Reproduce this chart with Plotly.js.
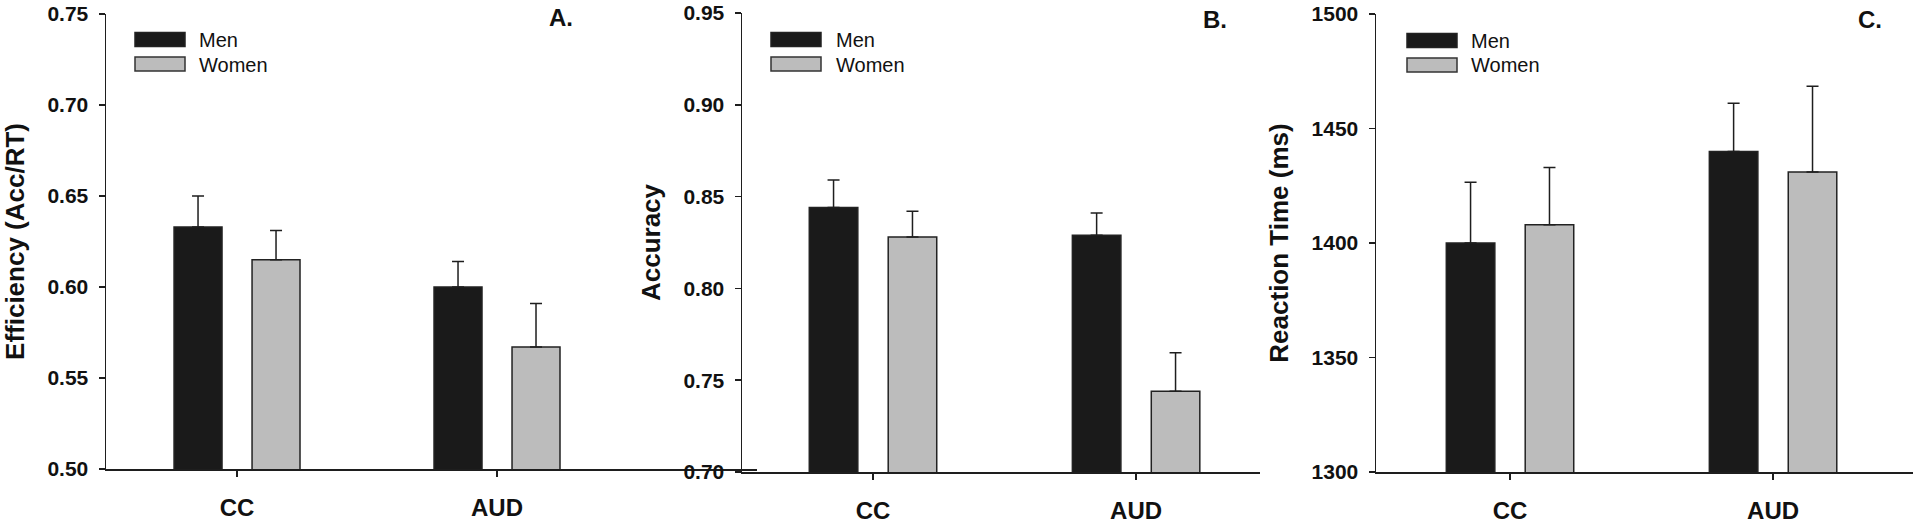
<!DOCTYPE html>
<html>
<head>
<meta charset="utf-8">
<script src="https://cdn.plot.ly/plotly-3.0.1.min.js"></script>
<style>
  html, body { margin: 0; padding: 0; background: #ffffff; }
  #chart { width: 1920px; height: 525px; }
</style>
</head>
<body>
<div id="chart"></div>
<script>
// ---------------- data ----------------
const categories = ['CC', 'AUD'];
const seriesNames = ['Men', 'Women'];
const panelLetters = ['A.', 'B.', 'C.'];
const yTitles = ['Efficiency (Acc/RT)', 'Accuracy', 'Reaction Time (ms)'];

const effMen = [0.633, 0.600];
const effMenErr = [0.017, 0.014];
const effWomen = [0.615, 0.567];
const effWomenErr = [0.016, 0.024];

const accMen = [0.844, 0.829];
const accMenErr = [0.015, 0.012];
const accWomen = [0.828, 0.744];
const accWomenErr = [0.014, 0.021];

const rtMen = [1400, 1440];
const rtMenErr = [26.5, 21];
const rtWomen = [1408, 1431];
const rtWomenErr = [25, 37.5];

const noLowerErr = [0, 0];

// ---------------- styling ----------------
const W = 1920, H = 525;
const px = x => x / W;
const py = y => 1 - y / H;
const FONT = 'Liberation Sans, Arial, Helvetica, sans-serif';
const INK = '#1e1e1e';
const MEN_COLOR = '#1a1a1a';
const WOMEN_COLOR = '#bcbcbc';

function barTrace(vals, errs, name, color, xa, ya) {
  return {
    type: 'bar', x: categories, y: vals, name: name,
    xaxis: xa, yaxis: ya, showlegend: false,
    marker: { color: color, line: { color: '#222222', width: 1.5 } },
    error_y: { type: 'data', array: errs, arrayminus: noLowerErr, symmetric: false,
               visible: true, color: INK, thickness: 1.5, width: 6 },
    hoverinfo: 'skip'
  };
}

const data = [
  barTrace(effMen, effMenErr, seriesNames[0], MEN_COLOR, 'x', 'y'),
  barTrace(effWomen, effWomenErr, seriesNames[1], WOMEN_COLOR, 'x', 'y'),
  barTrace(accMen, accMenErr, seriesNames[0], MEN_COLOR, 'x2', 'y2'),
  barTrace(accWomen, accWomenErr, seriesNames[1], WOMEN_COLOR, 'x2', 'y2'),
  barTrace(rtMen, rtMenErr, seriesNames[0], MEN_COLOR, 'x3', 'y3'),
  barTrace(rtWomen, rtWomenErr, seriesNames[1], WOMEN_COLOR, 'x3', 'y3')
];

function xAxis(domain, range, anchor) {
  return {
    type: 'category', domain: domain, range: range, anchor: anchor,
    showline: true, linecolor: INK, linewidth: 1.5,
    ticks: 'outside', ticklen: 6, tickwidth: 1.5, tickcolor: INK,
    showgrid: false, zeroline: false,
    tickfont: { family: FONT, size: 24, color: '#111', weight: 'bold' },
    ticklabelstandoff: 11, automargin: false, fixedrange: true
  };
}
function yAxis(domain, range, dtick, fmt, anchor, title) {
  return {
    domain: domain, range: range, dtick: dtick, tick0: range[0], tickformat: fmt, anchor: anchor,
    showline: true, linecolor: INK, linewidth: 1.5,
    ticks: 'outside', ticklen: 6, tickwidth: 1.5, tickcolor: INK,
    showgrid: false, zeroline: false,
    tickfont: { family: FONT, size: 21, color: '#111', weight: 'bold' },
    ticklabelstandoff: 6,
    title: { text: title, font: { family: FONT, size: 26, color: '#111', weight: 'bold' }, standoff: 15 },
    automargin: false, fixedrange: true
  };
}

// legend boxes + text (drawn as layout decorations)
const legendPos = [
  { box: 135, text: 197, dy: 0 },
  { box: 771, text: 834, dy: 0 },
  { box: 1407, text: 1469, dy: 1 }
];
const shapes = [];
const annotations = [];
legendPos.forEach(p => {
  shapes.push({ type: 'rect', xref: 'paper', yref: 'paper',
    x0: px(p.box), x1: px(p.box + 50), y0: py(46.5 + p.dy), y1: py(32.5 + p.dy),
    fillcolor: MEN_COLOR, line: { color: '#222', width: 1.5 } });
  shapes.push({ type: 'rect', xref: 'paper', yref: 'paper',
    x0: px(p.box), x1: px(p.box + 50), y0: py(71 + p.dy), y1: py(57 + p.dy),
    fillcolor: WOMEN_COLOR, line: { color: '#333', width: 1.5 } });
  annotations.push({ xref: 'paper', yref: 'paper', x: px(p.text), y: py(40 + p.dy),
    xanchor: 'left', yanchor: 'middle', showarrow: false, text: seriesNames[0],
    font: { family: FONT, size: 20, color: '#111' } });
  annotations.push({ xref: 'paper', yref: 'paper', x: px(p.text), y: py(64.5 + p.dy),
    xanchor: 'left', yanchor: 'middle', showarrow: false, text: seriesNames[1],
    font: { family: FONT, size: 20, color: '#111' } });
});
const letterPos = [{ x: 561, y: 18 }, { x: 1215, y: 19.5 }, { x: 1870, y: 20 }];
letterPos.forEach((p, i) => {
  annotations.push({ xref: 'paper', yref: 'paper', x: px(p.x), y: py(p.y),
    xanchor: 'center', yanchor: 'middle', showarrow: false, text: panelLetters[i],
    font: { family: FONT, size: 24, color: '#111', weight: 'bold' } });
});

const layout = {
  width: W, height: H,
  margin: { l: 0, r: 0, t: 0, b: 0, pad: 0 },
  paper_bgcolor: '#ffffff', plot_bgcolor: 'rgba(0,0,0,0)',
  barmode: 'group', bargap: 0.4, bargroupgap: 0.385,
  showlegend: false,
  xaxis: xAxis([px(106), px(757)], [-0.504, 2.0], 'y'),
  yaxis: yAxis([py(469), py(14)], [0.5, 0.75], 0.05, '.2f', 'x', yTitles[0]),
  xaxis2: xAxis([px(742), px(1260)], [-0.498, 1.471], 'y2'),
  yaxis2: yAxis([py(472), py(13)], [0.7, 0.95], 0.05, '.2f', 'x2', yTitles[1]),
  xaxis3: xAxis([px(1376), px(1913)], [-0.5095, 1.532], 'y3'),
  yaxis3: yAxis([py(472), py(14)], [1300, 1500], 50, 'd', 'x3', yTitles[2]),
  shapes: shapes,
  annotations: annotations
};

Plotly.newPlot('chart', data, layout, { displayModeBar: false, staticPlot: true });
</script>
</body>
</html>
